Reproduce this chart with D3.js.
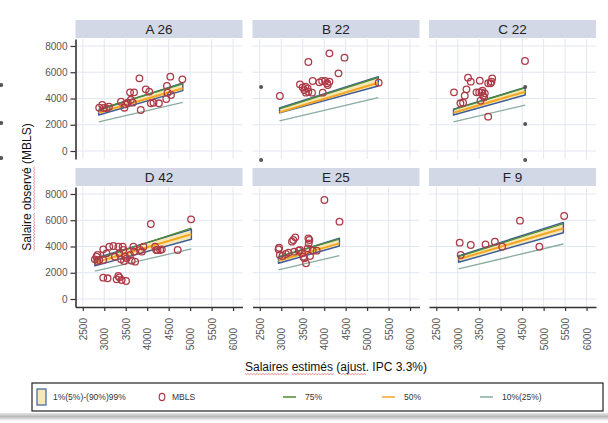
<!DOCTYPE html>
<html>
<head>
<meta charset="utf-8">
<script src="https://cdn.jsdelivr.net/npm/d3@7"></script>
<style>
  body { margin: 0; background: #fff; }
  svg { display: block; }
  text { font-family: "Liberation Sans", Arial, sans-serif; }
</style>
</head>
<body>
<svg id="chart" width="608" height="423"></svg>
<script>
// ---- data -------------------------------------------------------------
const panelNames = ["A 26", "B 22", "C 22", "D 42", "E 25", "F 9"];
const xTicks = [2500, 3000, 3500, 4000, 4500, 5000, 5500, 6000];
const yTicks = [0, 2000, 4000, 6000, 8000];

// estimated-salary range covered by the fitted lines, per panel [start, end]
const fitX = [[2870, 4830], [2960, 5260], [2900, 4570], [2780, 5030], [2935, 4355], [3020, 5460]];
// 1%(5%)-(90%)99% band edges
const bandUpper = [[3120, 5180], [3280, 5660], [3180, 4850], [3100, 5310], [3180, 4630], [3280, 5840]];
const bandLower = [[2740, 4600], [2900, 4950], [2740, 4270], [2520, 4550], [2720, 4040], [2800, 5050]];
// quantile lines
const q75 = [[3180, 5120], [3220, 5600], [3150, 4820], [2980, 5400], [3230, 4570], [3230, 5740]];
const q50 = [[2920, 4780], [2950, 5200], [2920, 4520], [2770, 4930], [2920, 4240], [3030, 5390]];
const q10 = [[2210, 3710], [2290, 4060], [2210, 3500], [2130, 3810], [2210, 3300], [2290, 4190]];

// observed salaries (MBLS): [estimated, observed]
const mblsA = [[2882,3302],[2953,3505],[2990,3280],[3055,3250],[3109,3378],[3390,3759],[3470,3300],[3491,3556],[3546,3683],[3601,4470],[3694,4470],[3663,3683],[3819,5536],[3851,3124],[3967,4698],[4046,4520],[4085,3632],[4147,3683],[4273,3632],[4444,3962],[4475,4444],[4460,4952],[4538,5663],[4553,4267],[4819,5460],[3620,3900]];
const mblsB = [[2968,4190],[3631,6781],[4122,7441],[4473,7111],[4333,5917],[3436,5079],[3498,4850],[3561,4901],[3615,4774],[3576,4444],[3537,4640],[3631,4520],[3717,4444],[3732,5333],[3888,5231],[3951,5333],[4021,5333],[4068,5156],[4122,5282],[3966,4444],[4083,5029],[5269,5206]];
const mblsC = [[4566,6857],[2912,4470],[3202,4698],[3239,5587],[3303,5282],[3513,5358],[3436,4470],[3498,4470],[3576,4596],[3630,4393],[3615,4089],[3530,3835],[3162,4216],[3062,3632],[3123,3683],[3708,2616],[3708,5156],[3764,5156],[3802,5536],[3787,5282],[3591,4216],[3553,4470]];
const mblsD = [[2781,3022],[2820,3225],[2836,2895],[2883,2971],[2976,3784],[3054,3479],[3117,3987],[3211,4038],[3249,3225],[3328,3987],[3351,3479],[3390,3022],[3429,3987],[3444,3733],[3460,2895],[3484,3225],[3522,3098],[3601,3352],[3640,2920],[3679,3987],[3718,2844],[3694,3606],[3835,3733],[3874,3606],[3913,3987],[4085,5714],[4186,3987],[4210,3733],[4241,3733],[4303,3733],[4342,3784],[4710,3733],[5022,6070],[2976,1625],[3078,1575],[3288,1498],[3351,1650],[3405,1448],[3507,1371],[3328,1752],[2843,3352],[2976,2971]];
const mblsE = [[4005,7543],[4356,5892],[2936,3784],[2968,3352],[3030,3276],[3108,3429],[3170,3530],[3249,4368],[3280,4495],[3327,4698],[3303,3606],[3404,3683],[3436,3733],[3483,3479],[3514,3225],[3537,3098],[3576,2717],[3615,3860],[3631,4622],[3654,4495],[3639,4241],[3670,3276],[3732,3683],[3825,3683],[2950,3900]];
const mblsF = [[3045,4292],[3069,3352],[3303,4114],[3647,4165],[3864,4368],[4035,3987],[4449,5968],[4901,3987],[5479,6324]];
const mbls = [mblsA, mblsB, mblsC, mblsD, mblsE, mblsF];

// small grey reference markers (drawn unclipped)
const markA = [[600, 5030], [600, 2130], [600, -530]];
const markB = [[2530, 4880], [2530, -690]];
const markC = [[4570, 4880], [4570, 2060], [4570, -690]];
const marks = [markA, markB, markC, [], [], []];

// ---- layout -----------------------------------------------------------
const colLeft = [75.5, 252.5, 429];
const panelW = 167;
const stripTop = [20, 168];
const stripH = 18;
const plotH = 120;

const COL = {
  strip: "#d3d8e6", grid: "#e3e7f2", axis: "#333", tick: "#555",
  band: "#f5e8b5", bandStroke: "#3b5b9a", q75: "#4e8b3a", q50: "#f5a623",
  q10: "#88ad9f", mbls: "#ad3b47", mark: "#555"
};

const x = d3.scaleLinear().domain([2330, 6220]).range([0, panelW]);
const y = d3.scaleLinear().domain([-610, 8533]).range([plotH, 0]);
const plain = d3.format("d");

const svg = d3.select("#chart");
svg.append("rect").attr("width", 608).attr("height", 423).attr("fill", "#fff");

// bottom shadow under the figure frame
const defs = svg.append("defs");
const sg = defs.append("linearGradient").attr("id", "shadow").attr("x1", 0).attr("x2", 0).attr("y1", 0).attr("y2", 1);
sg.append("stop").attr("offset", "0%").attr("stop-color", "#e6e6e6");
sg.append("stop").attr("offset", "45%").attr("stop-color", "#b9b9b9");
sg.append("stop").attr("offset", "100%").attr("stop-color", "#ffffff");
svg.append("rect").attr("x", 0).attr("y", 413).attr("width", 608).attr("height", 8).attr("fill", "url(#shadow)");

const line = d3.line().x(d => x(d[0])).y(d => y(d[1]));

panelNames.forEach((name, i) => {
  const col = i % 3, row = Math.floor(i / 3);
  const g = svg.append("g")
    .attr("transform", `translate(${colLeft[col]},${stripTop[row] + stripH + 1})`);

  // strip header
  g.append("rect").attr("x", 0).attr("y", -stripH - 1).attr("width", panelW).attr("height", stripH)
    .attr("fill", COL.strip);
  g.append("text").attr("x", panelW / 2).attr("y", -stripH / 2 - 1).attr("dy", "0.36em")
    .attr("text-anchor", "middle").attr("font-size", 13.5).attr("fill", "#222").text(name);

  // grid
  g.append("g").selectAll("line.v").data(xTicks).join("line")
    .attr("x1", d => x(d)).attr("x2", d => x(d)).attr("y1", 0).attr("y2", plotH)
    .attr("stroke", COL.grid).attr("stroke-width", 1);
  g.append("g").selectAll("line.h").data(yTicks).join("line")
    .attr("x1", 0).attr("x2", panelW).attr("y1", d => y(d)).attr("y2", d => y(d))
    .attr("stroke", COL.grid).attr("stroke-width", 1);

  const xs = fitX[i];
  const pts = (vals) => [[xs[0], vals[0]], [xs[1], vals[1]]];

  // 1%-99% band
  const poly = pts(bandUpper[i]).concat(pts(bandLower[i]).reverse());
  g.append("path").attr("d", line(poly) + "Z")
    .attr("fill", COL.band).attr("stroke", COL.bandStroke).attr("stroke-width", 1.4)
    .attr("stroke-linejoin", "round");

  g.append("path").attr("d", line(pts(q10[i]))).attr("fill", "none")
    .attr("stroke", COL.q10).attr("stroke-width", 1.3);
  g.append("path").attr("d", line(pts(q75[i]))).attr("fill", "none")
    .attr("stroke", COL.q75).attr("stroke-width", 1.5);
  g.append("path").attr("d", line(pts(q50[i]))).attr("fill", "none")
    .attr("stroke", COL.q50).attr("stroke-width", 2);

  // observed points
  g.append("g").selectAll("circle").data(mbls[i]).join("circle")
    .attr("cx", d => x(d[0])).attr("cy", d => y(d[1])).attr("r", 3.3)
    .attr("fill", "none").attr("stroke", COL.mbls).attr("stroke-width", 1.3);

  g.append("g").selectAll("circle").data(marks[i]).join("circle")
    .attr("cx", d => x(d[0])).attr("cy", d => y(d[1])).attr("r", 2)
    .attr("fill", COL.mark);

  // y axis on the first column
  if (col === 0) {
    const ya = g.append("g").call(d3.axisLeft(y).tickValues(yTicks).tickFormat(plain)
      .tickSize(5).tickSizeOuter(0).tickPadding(3));
    ya.select(".domain").attr("stroke", COL.axis).attr("stroke-width", 1.6);
    ya.selectAll(".tick line").attr("stroke", COL.axis).attr("stroke-width", 1.2);
    ya.selectAll(".tick text").attr("fill", COL.tick).attr("font-size", 10)
      .attr("font-family", "Liberation Sans, Arial, sans-serif");
  }
  // x axis on the bottom row
  if (row === 1) {
    const xa = g.append("g").attr("transform", `translate(0,${plotH})`)
      .call(d3.axisBottom(x).tickValues(xTicks).tickFormat(plain).tickSize(4).tickSizeOuter(0));
    xa.select(".domain").attr("stroke", COL.axis).attr("stroke-width", 1.6);
    xa.selectAll(".tick line").attr("stroke", COL.axis).attr("stroke-width", 1.2);
    xa.selectAll(".tick text")
      .attr("fill", COL.tick).attr("font-size", 10)
      .attr("font-family", "Liberation Sans, Arial, sans-serif")
      .attr("transform", "rotate(-90)")
      .attr("text-anchor", "end")
      .attr("x", (d, k) => -(11 + (k % 2) * 10))
      .attr("y", 0)
      .attr("dy", "0.35em");
  }
});

// wavy red underline under selected words of a text element
function squiggle(parent, textEl, ranges, x0, yOff) {
  ranges.forEach(([start, n]) => {
    const a = x0 + textEl.getSubStringLength(0, start);
    const len = textEl.getSubStringLength(start, n);
    let d = `M${a},${yOff}`;
    for (let t = 0; t < len; t += 1.5) d += `L${a + t + 1.5},${yOff + ((Math.round(t / 1.5) % 2) ? 0 : 1.2)}`;
    parent.append("path").attr("d", d).attr("fill", "none")
      .attr("stroke", "#e5484d").attr("stroke-width", 0.8).attr("opacity", 0.8);
  });
}

// axis titles
const yTitleG = svg.append("g").attr("transform", "translate(31,187) rotate(-90)");
const yTitle = yTitleG.append("text").attr("text-anchor", "start").attr("font-size", 12)
  .attr("fill", "#111").text("Salaire observé (MBLS)");
const yLen = yTitle.node().getComputedTextLength();
yTitle.attr("x", -yLen / 2);
squiggle(yTitleG, yTitle.node(), [[0, 7], [8, 7]], -yLen / 2, 2.5);

const xTitleG = svg.append("g").attr("transform", "translate(336,371)");
const xTitle = xTitleG.append("text").attr("font-size", 12).attr("fill", "#111")
  .text("Salaires estimés (ajust. IPC 3.3%)");
const xLen = xTitle.node().getComputedTextLength();
xTitle.attr("x", -xLen / 2);
squiggle(xTitleG, xTitle.node(), [[0, 8], [9, 7], [18, 5]], -xLen / 2, 2.5);

// legend
const lg = svg.append("g");
lg.append("rect").attr("x", 32).attr("y", 383).attr("width", 571).attr("height", 28)
  .attr("fill", "#fff").attr("stroke", "#222").attr("stroke-width", 1.2);
const ly = 397;
lg.append("rect").attr("x", 37).attr("y", 389).attr("width", 9).attr("height", 16)
  .attr("fill", COL.band).attr("stroke", "#4a6aa5").attr("stroke-width", 1.3);
const legText = (xp, s) => lg.append("text").attr("x", xp).attr("y", ly).attr("dy", "0.35em")
  .attr("font-size", 8.5).attr("fill", "#333").text(s);
legText(53, "1%(5%)-(90%)99%");
lg.append("ellipse").attr("cx", 162).attr("cy", ly).attr("rx", 2.8).attr("ry", 3.6)
  .attr("fill", "none").attr("stroke", COL.mbls).attr("stroke-width", 1.2);
legText(172, "MBLS");
[[283, COL.q75, "75%"], [382, COL.q50, "50%"], [480, COL.q10, "10%(25%)"]].forEach(([xp, c, s]) => {
  lg.append("line").attr("x1", xp).attr("x2", xp + 13).attr("y1", ly).attr("y2", ly)
    .attr("stroke", c).attr("stroke-width", 1.5);
  legText(xp + 22, s);
});
</script>
</body>
</html>
